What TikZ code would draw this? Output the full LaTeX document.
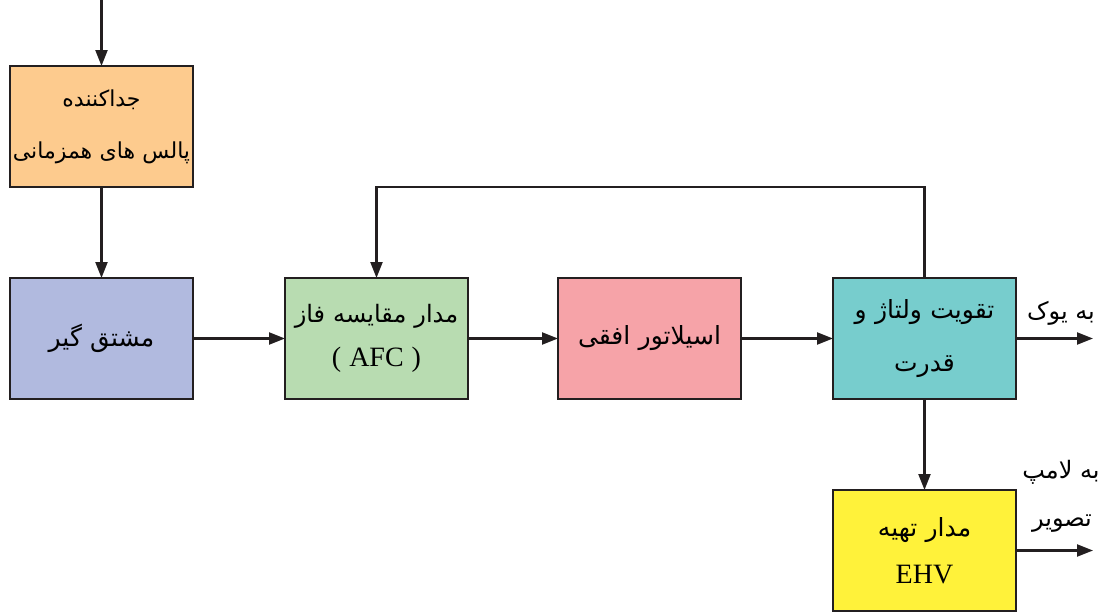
\documentclass[tikz,border=0pt]{standalone}
\usepackage{fontspec}
\setmainfont{Liberation Serif}
\newfontfamily\arabicfont[Script=Arabic]{DejaVu Sans}
\TeXXeTstate=1
\usetikzlibrary{arrows.meta}
\newcommand\fa[1]{{\arabicfont\beginR #1\endR}}
\definecolor{cOrange}{RGB}{253,203,142}
\definecolor{cBlue}{RGB}{177,186,223}
\definecolor{cGreen}{RGB}{184,220,177}
\definecolor{cPink}{RGB}{246,163,168}
\definecolor{cCyan}{RGB}{119,205,205}
\definecolor{cYellow}{RGB}{255,242,58}
\definecolor{cLine}{RGB}{35,31,32}
\begin{document}
\begin{tikzpicture}[x=1pt,y=-1pt,
  box/.style={draw=cLine, line width=2.6pt, minimum width=183pt, minimum height=121pt, text width=183pt,
    inner sep=0pt, outer sep=0pt, align=center, anchor=north west, font=\fontsize{25}{30}\selectfont},
  arr/.style={draw=cLine, line width=2.2pt, -{Triangle[length=16pt,width=12pt]}},
  lbl/.style={inner sep=0pt, font=\fontsize{24}{30}\selectfont}]
\useasboundingbox (0,0) rectangle (1102,611);
\node[box, fill=cOrange, font=\fontsize{22}{52}\selectfont] (sep) at (10,66) {\fa{جداکننده}\\\fa{پالس های همزمانی}};
\node[box, fill=cBlue] (diff) at (10,278) {\fa{مشتق گیر}};
\node[box, fill=cGreen, font=\fontsize{24}{44}\selectfont] (afc) at (285,278) {\fa{مدار مقایسه فاز}\\{\fontsize{28}{44}\selectfont ( AFC )}};
\node[box, fill=cPink] (osc) at (558,278) {\fa{اسیلاتور افقی}};
\node[box, fill=cCyan, font=\fontsize{25}{53}\selectfont] (pwr) at (833,278) {\fa{تقویت ولتاژ و}\\\fa{قدرت}};
\node[box, fill=cYellow, font=\fontsize{25}{47}\selectfont] (ehv) at (833,490) {\fa{مدار تهیه}\\{\fontsize{28}{47}\selectfont EHV}};
\coordinate (in) at (101.5,0);
\coordinate (yoke) at (1093,338.5);
\coordinate (lamp) at (1093,550.5);
\draw[arr] (in) -- (sep.north);
\draw[arr] (sep.south) -- (diff.north);
\draw[arr] (diff.east) -- (afc.west);
\draw[arr] (afc.east) -- (osc.west);
\draw[arr] (osc.east) -- (pwr.west);
\draw[arr] (pwr.east) -- (yoke);
\draw[arr] (pwr.north) -- ++(0,-91) -| (afc.north);
\draw[arr] (pwr.south) -- (ehv.north);
\draw[arr] (ehv.east) -- (lamp);
\node[lbl] (tyoke) at (1061,313) {\fa{به یوک}};
\node[lbl] (tlamp1) at (1061,472) {\fa{به لامپ}};
\node[lbl] (tlamp2) at (1062,524) {\fa{تصویر}};
\end{tikzpicture}
\end{document}
